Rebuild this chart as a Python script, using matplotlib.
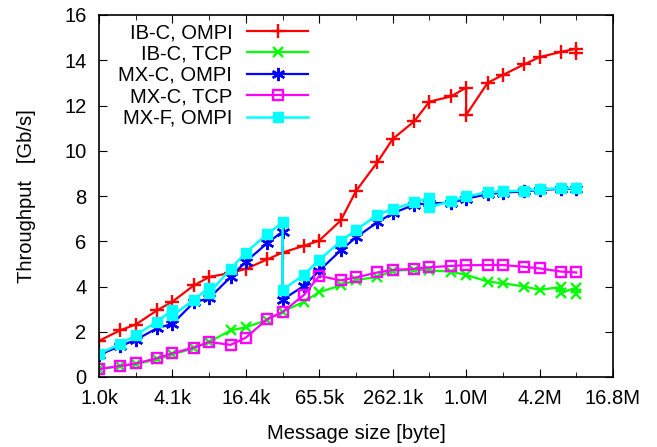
import matplotlib
matplotlib.use("Agg")
import matplotlib.pyplot as plt
from matplotlib.ticker import FixedLocator, NullFormatter

plt.rcParams['font.family'] = ['Liberation Sans', 'DejaVu Sans']

# message sizes in KiB (1 KiB = 1024 byte)
size_kib = [1, 1.5, 2, 3, 4, 6, 8, 12, 16, 24, 32, 48, 64, 96, 128, 192, 256,
            384, 512, 768, 1024, 1536, 2048, 3072, 4096, 6144, 8192]

# IB-C, OMPI (two readings at 1M and 8M)
ib_ompi_x = size_kib[:21] + [1024] + size_kib[21:] + [8192]
ib_ompi_y = [1.6, 2.07, 2.32, 2.95, 3.33, 4.05, 4.42, 4.6, 4.78, 5.2, 5.5, 5.8, 6.03,
             6.92, 8.22, 9.5, 10.52, 11.3, 12.17, 12.4, 12.79, 11.58, 13.0, 13.35,
             13.82, 14.14, 14.37, 14.51, 14.32]

# IB-C, TCP (two readings at 6M and 8M)
ib_tcp_x = size_kib[:26] + [6144, 8192, 8192]
ib_tcp_y = [0.35, 0.48, 0.57, 0.78, 1.0, 1.27, 1.55, 2.06, 2.2, 2.52, 2.89, 3.33,
            3.75, 4.05, 4.29, 4.42, 4.7, 4.74, 4.71, 4.66, 4.51, 4.22, 4.14, 4.0,
            3.85, 3.98, 3.72, 3.95, 3.65]

# MX-C, OMPI (two readings at 32k)
mx_ompi_x = size_kib[:11] + [32] + size_kib[11:]
mx_ompi_y = [0.98, 1.37, 1.64, 2.16, 2.35, 3.3, 3.48, 4.42, 5.1, 5.92, 6.43, 3.42,
             4.03, 4.7, 5.6, 6.17, 6.84, 7.24, 7.61, 7.68, 7.7, 7.88, 8.08, 8.15,
             8.2, 8.27, 8.31, 8.32]

# MX-C, TCP
mx_tcp_x = size_kib
mx_tcp_y = [0.35, 0.49, 0.6, 0.83, 1.05, 1.3, 1.55, 1.42, 1.74, 2.56, 2.87, 3.63,
            4.47, 4.27, 4.4, 4.62, 4.73, 4.78, 4.85, 4.91, 4.94, 4.95, 4.95, 4.87,
            4.8, 4.66, 4.62]

# MX-F, OMPI (two readings at 4k, 8k, 32k, 512k)
mxf_ompi_x = (size_kib[:5] + [4] + size_kib[5:7] + [8] + size_kib[7:11] + [32]
              + size_kib[11:19] + [512] + size_kib[19:])
mxf_ompi_y = [1.03, 1.46, 1.85, 2.45, 2.97, 2.72, 3.41, 3.95, 3.7, 4.78, 5.5, 6.32,
              6.83, 3.85, 4.52, 5.18, 6.0, 6.5, 7.17, 7.42, 7.72, 7.92, 7.52, 7.76,
              7.98, 8.16, 8.2, 8.24, 8.3, 8.34, 8.35]

tick_bytes = [1024 * 4 ** k for k in range(8)]
tick_labels = ['1.0k', '4.1k', '16.4k', '65.5k', '262.1k', '1.0M', '4.2M', '16.8M']
minor_bytes = [2048 * 4 ** k for k in range(7)]

fs = 14.5

fig = plt.figure(figsize=(6.57, 4.47), dpi=100)
ax = fig.add_axes([99 / 657, 70 / 447, 514 / 657, 362 / 447])


def kb(xs):
    return [v * 1024 for v in xs]


ax.plot(kb(ib_ompi_x), ib_ompi_y, color='#ff0000', lw=1.6, marker='+', ms=9.5, mew=1.7,
        label='IB-C, OMPI')
ax.plot(kb(ib_tcp_x), ib_tcp_y, color='#00ff00', lw=1.6, marker='x', ms=7.5, mew=1.7,
        label='IB-C, TCP')
ax.plot(kb(mx_ompi_x), mx_ompi_y, color='#0000ff', lw=1.6, marker=(6, 2, 0), ms=9.5,
        mew=1.7, label='MX-C, OMPI')
ax.plot(kb(mx_tcp_x), mx_tcp_y, color='#ff00ff', lw=1.6, marker='s', ms=7.5, mew=1.7,
        mfc='none', label='MX-C, TCP')
ax.plot(kb(mxf_ompi_x), mxf_ompi_y, color='#00ffff', lw=1.8, marker='s', ms=7.5,
        label='MX-F, OMPI')

ax.set_xscale('log', base=2)
ax.set_xlim(1024, 16777216)
ax.set_ylim(0, 16)
ax.xaxis.set_major_locator(FixedLocator(tick_bytes))
ax.set_xticklabels(tick_labels)
ax.xaxis.set_minor_locator(FixedLocator(minor_bytes))
ax.xaxis.set_minor_formatter(NullFormatter())
ax.set_yticks(range(0, 17, 2))

ax.tick_params(which='both', direction='in', top=True, right=True, labelsize=fs)
ax.tick_params(axis='x', which='major', length=6, pad=9)
ax.tick_params(axis='x', which='minor', length=3.5)
ax.tick_params(axis='y', which='major', length=6, pad=9)
for s in ax.spines.values():
    s.set_linewidth(1.2)

ax.set_xlabel('Message size [byte]', fontsize=fs, labelpad=11)
ax.set_ylabel('Throughput   [Gb/s]', fontsize=fs, labelpad=20)

ax.legend(loc='upper right', bbox_to_anchor=(0.422, 1.0), frameon=False,
          markerfirst=False, fontsize=fs, handlelength=3.0, labelspacing=0.12,
          handletextpad=0.75, borderpad=0.2, borderaxespad=0.2)

fig.savefig('out.png', dpi=100)
